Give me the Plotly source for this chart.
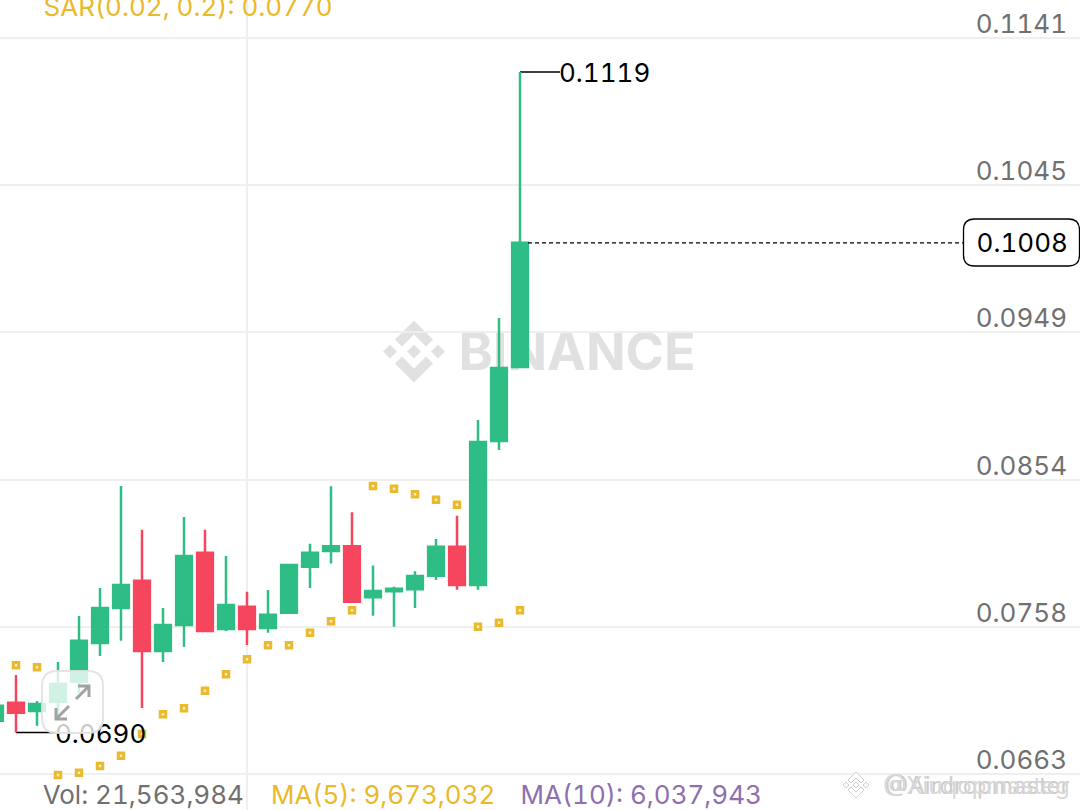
import plotly.graph_objects as go

index = list(range(26))
opens = [.06976,.07093,.07039,.07100,.07229,.07481,.07708,.07885,.07429,.07598,.08067,.07572,.07717,.07578,.07678,.07976,.08078,.08109,.07778,.07817,.07830,.07918,.08106,.07858,.08793,.09273]
closes = [.07074,.07028,.07085,.07215,.07496,.07708,.07858,.07429,.07598,.08046,.07559,.07728,.07572,.07665,.07987,.08067,.08109,.07749,.07819,.07834,.07916,.08106,.07858,.08786,.09267,.10080]
highs = [.07085,.07273,.07104,.07357,.07656,.07838,.08501,.08217,.07708,.08299,.08217,.08046,.07814,.07825,.07996,.08126,.08499,.08330,.07985,.07847,.07947,.08156,.08308,.08929,.09592,.11190]
lows = [.06960,.06900,.06944,.07013,.07156,.07396,.07496,.07059,.07357,.07457,.07559,.07559,.07468,.07548,.07678,.07838,.07998,.07749,.07658,.07587,.07708,.07890,.07827,.07827,.08734,.09267]
sar = [None,.07336,.07323,.06624,.06638,.06682,.06749,.06890,.07018,.07057,.07171,.07278,.07375,.07466,.07466,.07548,.07622,.07693,.08501,.08483,.08447,.08412,.08379,.07587,.07613,.07693]
tick_vals = [.0663,.07586,.08542,.09498,.10454,.1141]
tick_text = ["0.0663","0.0758","0.0854","0.0949","0.1045","0.1141"]
last_price = 0.1008
max_price = 0.1119
min_price = 0.0690
max_index = 25
min_index = 1

FONT = "Inter"
GREEN, RED, YELLOW, PURPLE, GREY = "#2EBD85", "#F6465D", "#EAB92C", "#8E6FB0", "#707070"
W, H = 1080, 810
PER_PX = .00006495
px = lambda x: x / W
py = lambda y: 1 - y / H


def poly(points):
    return "M " + " L ".join(f"{px(x):.5f} {py(y):.5f}" for x, y in points) + " Z"


def rounded(x0, y0, x1, y1, r):
    a, b, c, d = px(x0), py(y0), px(x1), py(y1)
    rx, ry = r / W, r / H
    return (f"M {a+rx} {b} L {c-rx} {b} Q {c} {b} {c} {b-ry} L {c} {d+ry} Q {c} {d} {c-rx} {d} "
            f"L {a+rx} {d} Q {a} {d} {a} {d+ry} L {a} {b-ry} Q {a} {b} {a+rx} {b} Z")


fig = go.Figure()
fig.add_trace(go.Candlestick(
    x=index, open=opens, high=highs, low=lows, close=closes, whiskerwidth=0,
    increasing=dict(line=dict(color=GREEN, width=2.5), fillcolor=GREEN),
    decreasing=dict(line=dict(color=RED, width=2.5), fillcolor=RED),
    hoverinfo="skip",
))
fig.add_trace(go.Scatter(
    x=index, y=sar, mode="markers", hoverinfo="skip",
    marker=dict(symbol="square", size=5.5, color="#FBEFC8", line=dict(color=YELLOW, width=3)),
))
fig.add_trace(go.Scatter(
    x=[max_index + 39 / 21, min_index + 39 / 21], y=[max_price - 4 * PER_PX, min_price - 4 * PER_PX],
    mode="text", text=[f"{max_price:.4f}", f"{min_price:.4f}"], textposition="middle right",
    textfont=dict(family=FONT, size=26, color="#000000"), hoverinfo="skip",
))

shapes = [
    dict(type="line", xref="x", yref="y", xsizemode="pixel", xanchor=max_index, x0=0, x1=40, y0=max_price, y1=max_price, line=dict(color="#000", width=1.5), layer="below"),
    dict(type="line", xref="x", yref="y", xsizemode="pixel", xanchor=min_index, x0=0, x1=40, y0=min_price, y1=min_price, line=dict(color="#000", width=1.5), layer="below"),
    dict(type="line", xref="paper", yref="y", x0=px(528), x1=px(964), y0=last_price, y1=last_price, line=dict(color="#000", width=1.2, dash="4px,3px"), layer="above"),
    dict(type="path", xref="paper", yref="paper", path=rounded(963.5, 219, 1079.5, 266, 11), fillcolor="#fff", line=dict(color="#000", width=1.3), layer="above"),
    dict(type="path", xref="paper", yref="paper", path=rounded(42, 671, 103, 733, 15), fillcolor="rgba(255,255,255,0.78)", line=dict(color="rgba(225,225,225,0.9)", width=2), layer="above"),
    dict(type="path", xref="paper", yref="paper", path=f"M {px(56)} {py(719)} L {px(69)} {py(706)} M {px(56)} {py(708)} L {px(56)} {py(719)} L {px(67)} {py(719)} "
         f"M {px(76)} {py(699)} L {px(89)} {py(686)} M {px(78)} {py(686)} L {px(89)} {py(686)} L {px(89)} {py(697)}",
         line=dict(color="#A2A2A2", width=3), layer="above"),
]
cx, cy = 414, 351.5
for pts in [
    [(0, -7), (7, 0), (0, 7), (-7, 0)],
    [(-24, -7), (-17, 0), (-24, 7), (-31, 0)],
    [(24, -7), (31, 0), (24, 7), (17, 0)],
    [(0, -31), (19, -12), (12, -5), (0, -17), (-12, -5), (-19, -12)],
    [(0, 31), (19, 12), (12, 5), (0, 17), (-12, 5), (-19, 12)],
]:
    shapes.append(dict(type="path", xref="paper", yref="paper", path=poly([(cx + a, cy + b) for a, b in pts]),
                       fillcolor="#E1E1E1", line=dict(width=0), layer="below"))
shapes.append(dict(type="rect", xref="paper", yref="paper", x0=px(457), x1=px(697), y0=py(369), y1=py(329),
                   line=dict(width=0), fillcolor="rgba(0,0,0,0)", layer="below",
                   label=dict(text="BINANCE", font=dict(family=FONT, size=52, color="#E1E1E1", weight=700), textposition="middle center")))
cx2, cy2 = 856, 785
for pts in [
    [(0, -3), (3, 0), (0, 3), (-3, 0)],
    [(-10, -3), (-7, 0), (-10, 3), (-13, 0)],
    [(10, -3), (13, 0), (10, 3), (7, 0)],
    [(0, -13), (8, -5), (5, -2), (0, -7), (-5, -2), (-8, -5)],
    [(0, 13), (8, 5), (5, 2), (0, 7), (-5, 2), (-8, 5)],
]:
    shapes.append(dict(type="path", xref="paper", yref="paper", path=poly([(cx2 + a, cy2 + b) for a, b in pts]),
                       fillcolor="#FFFFFF", line=dict(color="#CFCFCF", width=1), layer="above"))


def note(text, x, y, color, size=26, anchor="left"):
    return dict(text=text, xref="paper", yref="paper", x=px(x), y=py(y), xanchor=anchor, yanchor="middle",
                showarrow=False, font=dict(family=FONT, size=size, color=color))


annotations = [
    note("SAR(0.02, 0.2): 0.0770", 47, 6, YELLOW),
    note("Vol: 21,563,984", 46, 794, GREY),
    note("MA(5): 9,673,032", 274, 794, YELLOW),
    note("MA(10): 6,037,943", 526.5, 794, PURPLE),
    note("@Airdropmaster", 1072, 785, "#CDCDCD", 24, "right"),
    note("@Xiuqopmasteg", 1072, 785, "#D8D8D8", 24, "right"),
    dict(text=f"{last_price:.4f}", xref="paper", yref="y", x=px(1064), y=last_price, xanchor="right", yanchor="middle",
         showarrow=False, font=dict(family=FONT, size=26, color="#000")),
]

fig.update_layout(
    width=W, height=H, margin=dict(l=0, r=0, t=0, b=0, pad=0), autosize=False,
    paper_bgcolor="#fff", plot_bgcolor="#fff", showlegend=False, boxgap=0.25, boxgroupgap=0,
    shapes=shapes, annotations=annotations,
    xaxis=dict(range=[5 / 21, 1085 / 21], tickmode="array", tickvals=[12], showticklabels=False, ticks="",
               showgrid=True, gridcolor="#EFEFEF", gridwidth=1.5, zeroline=False, showline=False,
               rangeslider=dict(visible=False), fixedrange=True),
    yaxis=dict(range=[.0663 - 36 * PER_PX, .0663 + 774 * PER_PX], side="right",
               tickmode="array", tickvals=tick_vals, ticktext=tick_text, ticklabelposition="inside top",
               ticklabelstandoff=10, ticklabelshift=4, tickfont=dict(family=FONT, size=26, color=GREY), ticks="",
               showgrid=True, gridcolor="#EFEFEF", gridwidth=1.5, zeroline=False, showline=False, fixedrange=True),
)
fig.write_html("out.html", config=dict(displayModeBar=False),
               post_script="document.body.style.margin='0';document.body.style.overflow='hidden';"
                           "var s=document.createElement('style');s.textContent='text{font-variant-numeric:tabular-nums;font-feature-settings:\"tnum\"}';document.head.appendChild(s);")
